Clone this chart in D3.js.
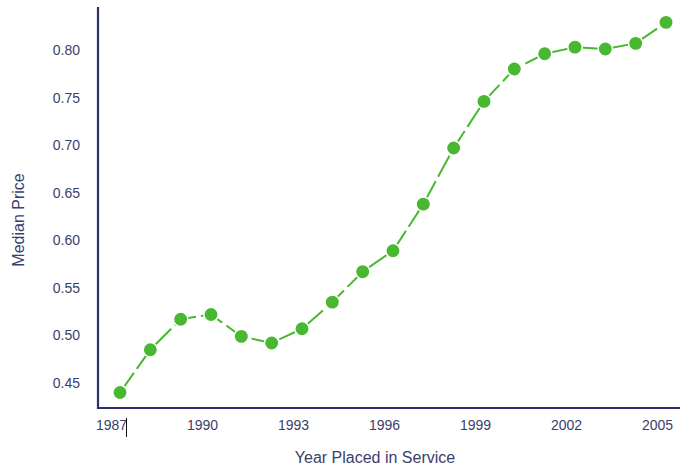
<!DOCTYPE html>
<html>
<head>
<meta charset="utf-8">
<script src="https://cdn.jsdelivr.net/npm/d3@7"></script>
<style>
  html, body { margin: 0; padding: 0; background: #fff; }
  svg { display: block; }
  text { font-family: "Liberation Sans Narrow", "Arial Narrow", "Liberation Sans", Arial, sans-serif; fill: #3a3e6c; }
</style>
</head>
<body>
<svg id="chart" width="680" height="470"></svg>
<script>
const years = [1987,1988,1989,1990,1991,1992,1993,1994,1995,1996,1997,1998,1999,2000,2001,2002,2003,2004,2005];
const prices = [0.440,0.485,0.517,0.522,0.499,0.492,0.507,0.535,0.567,0.589,0.638,0.697,0.746,0.780,0.796,0.803,0.801,0.807,0.829];
const xTicks = [1987,1990,1993,1996,1999,2002,2005];
const yTicks = [0.45,0.50,0.55,0.60,0.65,0.70,0.75,0.80];
const xTitle = "Year Placed in Service";
const yTitle = "Median Price";

(function () {
const svg = d3.select("#chart");
const axisColor = "#2b2f6b";
const green = "#47b82f";

const x = d3.scaleLinear().domain([1987, 2005]).range([120, 666]);
const y = d3.scaleLinear().domain([0.45, 0.80]).range([383, 50]);

const mLeft = 98, mBottom = 408, mTop = 7, mRight = 680;

const yAxis = d3.axisLeft(y).tickValues(yTicks).tickFormat(d3.format(".2f")).tickSize(0).tickPadding(18);
const gy = svg.append("g").attr("transform", `translate(${mLeft},0)`).call(yAxis);
gy.select(".domain").remove();
gy.selectAll("text").style("font-size", "14px").attr("fill", "#3a3e6c");

const xAxis = d3.axisBottom(x).tickValues(xTicks).tickFormat(d3.format("d")).tickSize(0).tickPadding(12);
const gx = svg.append("g").attr("transform", `translate(0,${mBottom})`).call(xAxis);
gx.select(".domain").remove();
gx.selectAll("text").style("font-size", "14px").attr("fill", "#3a3e6c").attr("dx", -9);

svg.append("line").attr("x1", mLeft).attr("x2", mLeft).attr("y1", mTop).attr("y2", mBottom + 1)
  .attr("stroke", axisColor).attr("stroke-width", 2.2);
svg.append("line").attr("x1", mLeft - 1).attr("x2", mRight).attr("y1", mBottom).attr("y2", mBottom)
  .attr("stroke", axisColor).attr("stroke-width", 2.2);

// Stray cursor mark next to 1987 label
svg.append("line").attr("x1", x(1987) + 6.5).attr("x2", x(1987) + 6.5)
  .attr("y1", mBottom + 10).attr("y2", mBottom + 29)
  .attr("stroke", "#111").attr("stroke-width", 1);

const data = years.map((yr, i) => ({ yr, v: prices[i] }));
const line = d3.line().x(d => x(d.yr)).y(d => y(d.v));
svg.append("path").datum(data).attr("d", line)
  .attr("fill", "none").attr("stroke", green).attr("stroke-width", 2)
  .attr("stroke-dasharray", "24,5");

svg.selectAll("circle.pt").data(data).enter().append("circle")
  .attr("class", "pt")
  .attr("cx", d => x(d.yr)).attr("cy", d => y(d.v)).attr("r", 7.2)
  .attr("fill", green).attr("stroke", "#fff").attr("stroke-width", 1.5);

svg.append("text").attr("x", 375).attr("y", 463).attr("text-anchor", "middle")
  .style("font-size", "16px").text(xTitle);
svg.append("text").attr("transform", "translate(24,220) rotate(-90)").attr("text-anchor", "middle")
  .style("font-size", "16px").text(yTitle);
})();
</script>
</body>
</html>
